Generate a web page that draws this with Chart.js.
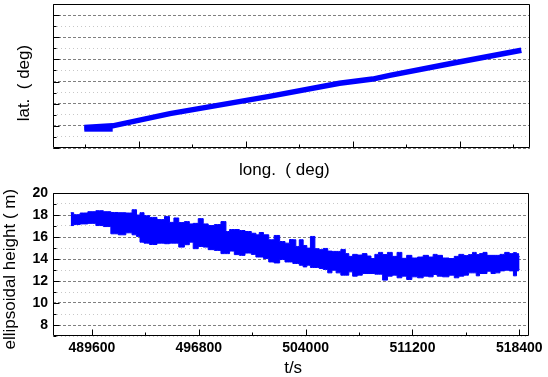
<!DOCTYPE html>
<html>
<head>
<meta charset="utf-8">
<script src="https://cdn.jsdelivr.net/npm/chart.js@4.4.0/dist/chart.umd.min.js"></script>
<style>
  body { margin: 0; background: #fff; }
  #wrap { position: relative; width: 548px; height: 377px; overflow: hidden; }
  canvas { position: absolute; left: 0; }
  #trackChart { top: 0; }
  #heightChart { top: 181px; }
</style>
</head>
<body>
<div id="wrap">
  <canvas id="trackChart" width="548" height="185"></canvas>
  <canvas id="heightChart" width="548" height="196"></canvas>
</div>
<script>
// --- trajectory (lat vs long), axis values have no printed labels ---
const trackLong = [-0.02, 0.51, 1.58, 3.44, 4.75, 5.37, 5.69, 6.81, 8.15];
const trackLat  = [0.93, 1.0, 1.55, 2.33, 2.92, 3.11, 3.28, 3.80, 4.41];
const startLong = [-0.02, 0.51];
const startLat  = [0.86, 0.86];
const trackLongTicks = [0, 1, 2, 3, 4, 5, 6, 7, 8];
const trackLatTicks  = [0, 0.5, 1, 1.5, 2, 2.5, 3, 3.5, 4, 4.5, 5, 5.5, 6, 6.5];

// --- ellipsoidal height vs time: upper / lower edge of the noisy band ---
const timeS = [
  488170, 488570, 489040, 489610, 490120, 490620, 491130, 491630, 492140, 492470,
  492740, 492940, 493280, 493680, 494290, 494690, 494960, 495290, 495610, 496050,
  496280, 496570, 496960, 497240, 497630, 498070, 498520, 498740, 499010, 499380,
  499690, 500140, 500540, 500760, 500990, 501330, 501700, 502060, 502440, 502780,
  503050, 503230, 503450, 503700, 503970, 504190, 504460, 504790, 505040, 505330,
  505650, 505900, 506210, 506540, 506810, 507010, 507330, 507640, 508000, 508270,
  508540, 508790, 509030, 509350, 509680, 510000, 510330, 510640, 510980, 511340,
  511750, 512100, 512460, 512730, 513000, 513450, 513870, 514170, 514480, 514840,
  515110, 515380, 515620, 515820, 516090, 516360, 516630, 516940, 517260, 517570,
  517880, 518130, 518290, 518420
];
const heightHigh = [
  18.21, 18.03, 18.18, 18.30, 18.39, 18.30, 18.23, 18.21, 18.18, 18.48,
  18.00, 18.21, 17.94, 17.78, 17.58, 17.87, 17.33, 17.73, 17.31, 17.40,
  17.19, 17.24, 17.67, 17.19, 17.04, 17.13, 17.40, 16.50, 16.68, 16.68,
  16.59, 16.50, 16.34, 16.20, 16.41, 16.20, 15.75, 16.14, 15.59, 15.44,
  15.77, 15.75, 15.14, 15.75, 15.23, 14.99, 16.05, 14.94, 14.85, 14.96,
  14.72, 14.69, 14.69, 14.87, 14.49, 14.24, 14.42, 14.36, 14.49, 14.27,
  14.04, 14.42, 14.60, 14.40, 14.60, 14.24, 14.60, 14.06, 14.33, 14.09,
  14.18, 14.33, 14.18, 14.42, 14.33, 14.09, 14.04, 14.24, 14.42, 14.31,
  14.40, 14.60, 14.40, 14.49, 14.60, 14.33, 14.33, 14.33, 14.42, 14.60,
  14.49, 14.58, 14.49, 14.24
];
const heightLow = [
  17.04, 17.13, 17.19, 17.24, 17.04, 16.95, 16.29, 16.20, 16.38, 16.20,
  16.05, 15.53, 15.44, 15.32, 15.44, 15.39, 15.44, 15.44, 15.08, 15.30,
  15.53, 14.94, 15.14, 15.08, 14.85, 14.78, 14.49, 14.49, 14.72, 14.40,
  14.33, 14.54, 14.42, 14.18, 14.18, 14.04, 13.73, 13.64, 13.95, 13.73,
  13.73, 13.59, 13.59, 13.43, 13.28, 13.43, 13.23, 13.23, 13.14, 13.05,
  12.74, 12.98, 12.74, 12.53, 12.53, 12.83, 12.44, 12.53, 12.68, 12.68,
  12.68, 12.62, 12.62, 12.08, 12.44, 12.53, 12.29, 12.44, 12.14, 12.38,
  12.29, 12.44, 12.38, 12.59, 12.44, 12.38, 12.53, 12.29, 12.44, 12.53,
  12.74, 12.74, 12.47, 12.68, 12.68, 12.89, 12.68, 12.74, 12.92, 12.98,
  12.92, 12.47, 12.92, 13.05
];
const timeTicks = [489600, 493200, 496800, 500400, 504000, 507600, 511200, 514800, 518400];
const heightTicks = [7, 8, 9, 10, 11, 12, 13, 14, 15, 16, 17, 18, 19, 20];

const BLUE = '#0000ff';
const FONT = 'Liberation Sans, Arial, sans-serif';

// dashed grey on major grid lines, light dotted on the minor ones
function gridColor(isMajor) {
    return c => (c.tick && isMajor(c.tick.value)) ? '#808080' : '#c8c8c8';
}
function gridDash(isMajor) {
    return c => c.tick ? (isMajor(c.tick.value) ? [3, 2] : [1, 3]) : [];
}
function fixedTicks(values) {
    return s => { s.ticks = values.map(v => ({ value: v })); };
}

// box around the plot + inward tick marks
function frameTicks(xMajor, yMajor) {
    return {
        id: 'frameTicks',
        afterDatasetsDraw(chart) {
            const { ctx, chartArea: a, scales: { x, y } } = chart;
            const L = Math.round(a.left) + 0.5, R = Math.round(a.right) - 0.5;
            const T = Math.round(a.top) + 0.5, B = Math.round(a.bottom) - 0.5;
            ctx.save();
            ctx.strokeStyle = '#000';
            ctx.lineWidth = 1;
            ctx.beginPath();
            ctx.rect(L, T, R - L, B - T);
            x.ticks.forEach(t => {
                const px = Math.round(x.getPixelForValue(t.value)) + 0.5;
                ctx.moveTo(px, B);
                ctx.lineTo(px, B - (xMajor(t.value) ? 6 : 3));
            });
            y.ticks.forEach(t => {
                const py = Math.round(y.getPixelForValue(t.value)) + 0.5;
                ctx.moveTo(L, py);
                ctx.lineTo(L + (yMajor(t.value) ? 6 : 3), py);
            });
            ctx.stroke();
            ctx.restore();
        }
    };
}

function pts(xs, ys) {
    return xs.map((v, i) => ({ x: v, y: ys[i] }));
}

// ---------------- top chart ----------------
const trackMajorY = v => Math.abs(v - Math.round(v)) < 1e-6;
const trackMajorX = v => Math.abs(v % 2) === 1;

new Chart(document.getElementById('trackChart'), {
    type: 'line',
    data: {
        datasets: [
            { data: pts(trackLong, trackLat), borderColor: BLUE, borderWidth: 5.5, pointRadius: 0, tension: 0 },
            { data: pts(startLong, startLat), borderColor: BLUE, borderWidth: 5.5, pointRadius: 0, tension: 0 }
        ]
    },
    options: {
        responsive: false,
        animation: false,
        layout: { padding: { left: 0, top: 4, right: 18, bottom: 0 } },
        plugins: { legend: { display: false }, tooltip: { enabled: false } },
        scales: {
            x: {
                type: 'linear', min: -0.606, max: 8.312,
                afterBuildTicks: fixedTicks(trackLongTicks),
                ticks: { display: false },
                grid: { display: false },
                border: { display: false },
                title: {
                    display: true, text: 'long.  ( deg)   ', color: '#000',
                    font: { family: FONT, size: 17, lineHeight: 1 },
                    padding: { top: 0, bottom: 6.5 }
                },
                afterFit: s => { s.height = 37; }
            },
            y: {
                type: 'linear', min: 0, max: 6.5,
                afterBuildTicks: fixedTicks(trackLatTicks),
                ticks: { display: false },
                grid: { drawTicks: false, lineWidth: 1, color: gridColor(trackMajorY) },
                border: { display: false, dash: gridDash(trackMajorY) },
                title: {
                    display: true, text: 'lat.  ( deg)   ', color: '#000',
                    font: { family: FONT, size: 17, lineHeight: 1 },
                    padding: { top: 15.5, bottom: 0 }
                },
                afterFit: s => { s.width = 53; }
            }
        }
    },
    plugins: [frameTicks(trackMajorX, trackMajorY)]
});

// ---------------- bottom chart ----------------
const heightMajorY = v => v % 2 === 0;
const heightMajorX = v => v % 7200 === 0;

new Chart(document.getElementById('heightChart'), {
    type: 'line',
    data: {
        datasets: [
            { data: pts(timeS, heightHigh), borderColor: BLUE, borderWidth: 1, pointRadius: 0, stepped: 'middle', fill: false },
            { data: pts(timeS, heightLow), borderColor: BLUE, borderWidth: 1, pointRadius: 0, stepped: 'middle',
              fill: '-1', backgroundColor: BLUE }
        ]
    },
    options: {
        responsive: false,
        animation: false,
        layout: { padding: { left: 0, top: 7, right: 18, bottom: 0 } },
        plugins: { legend: { display: false }, tooltip: { enabled: false } },
        scales: {
            x: {
                type: 'linear', min: 486976, max: 519026,
                afterBuildTicks: fixedTicks(timeTicks),
                ticks: {
                    maxRotation: 0, autoSkip: false, padding: 5,
                    color: '#000', font: { family: FONT, size: 14, weight: 'bold', lineHeight: 1 },
                    callback: v => heightMajorX(v) ? String(v) : ''
                },
                grid: { display: false, drawTicks: false },
                border: { display: false },
                title: {
                    display: true, text: ' t/s', color: '#000',
                    font: { family: FONT, size: 17, lineHeight: 1 },
                    padding: { top: 0, bottom: 0 }
                },
                afterFit: s => { s.height = 41; }
            },
            y: {
                type: 'linear', min: 7, max: 20,
                afterBuildTicks: fixedTicks(heightTicks),
                ticks: {
                    autoSkip: false, padding: 5,
                    color: '#000', font: { family: FONT, size: 14, weight: 'bold', lineHeight: 1 },
                    callback: v => heightMajorY(v) ? String(v) : ''
                },
                grid: { drawTicks: false, lineWidth: 1, color: gridColor(heightMajorY) },
                border: { display: false, dash: gridDash(heightMajorY) },
                title: {
                    display: true, text: 'ellipsoidal height ( m)  ', color: '#000',
                    font: { family: FONT, size: 17, lineHeight: 1 },
                    padding: { top: 2, bottom: 0 }
                },
                afterFit: s => { s.width = 53; }
            }
        }
    },
    plugins: [frameTicks(heightMajorX, heightMajorY)]
});
</script>
</body>
</html>
